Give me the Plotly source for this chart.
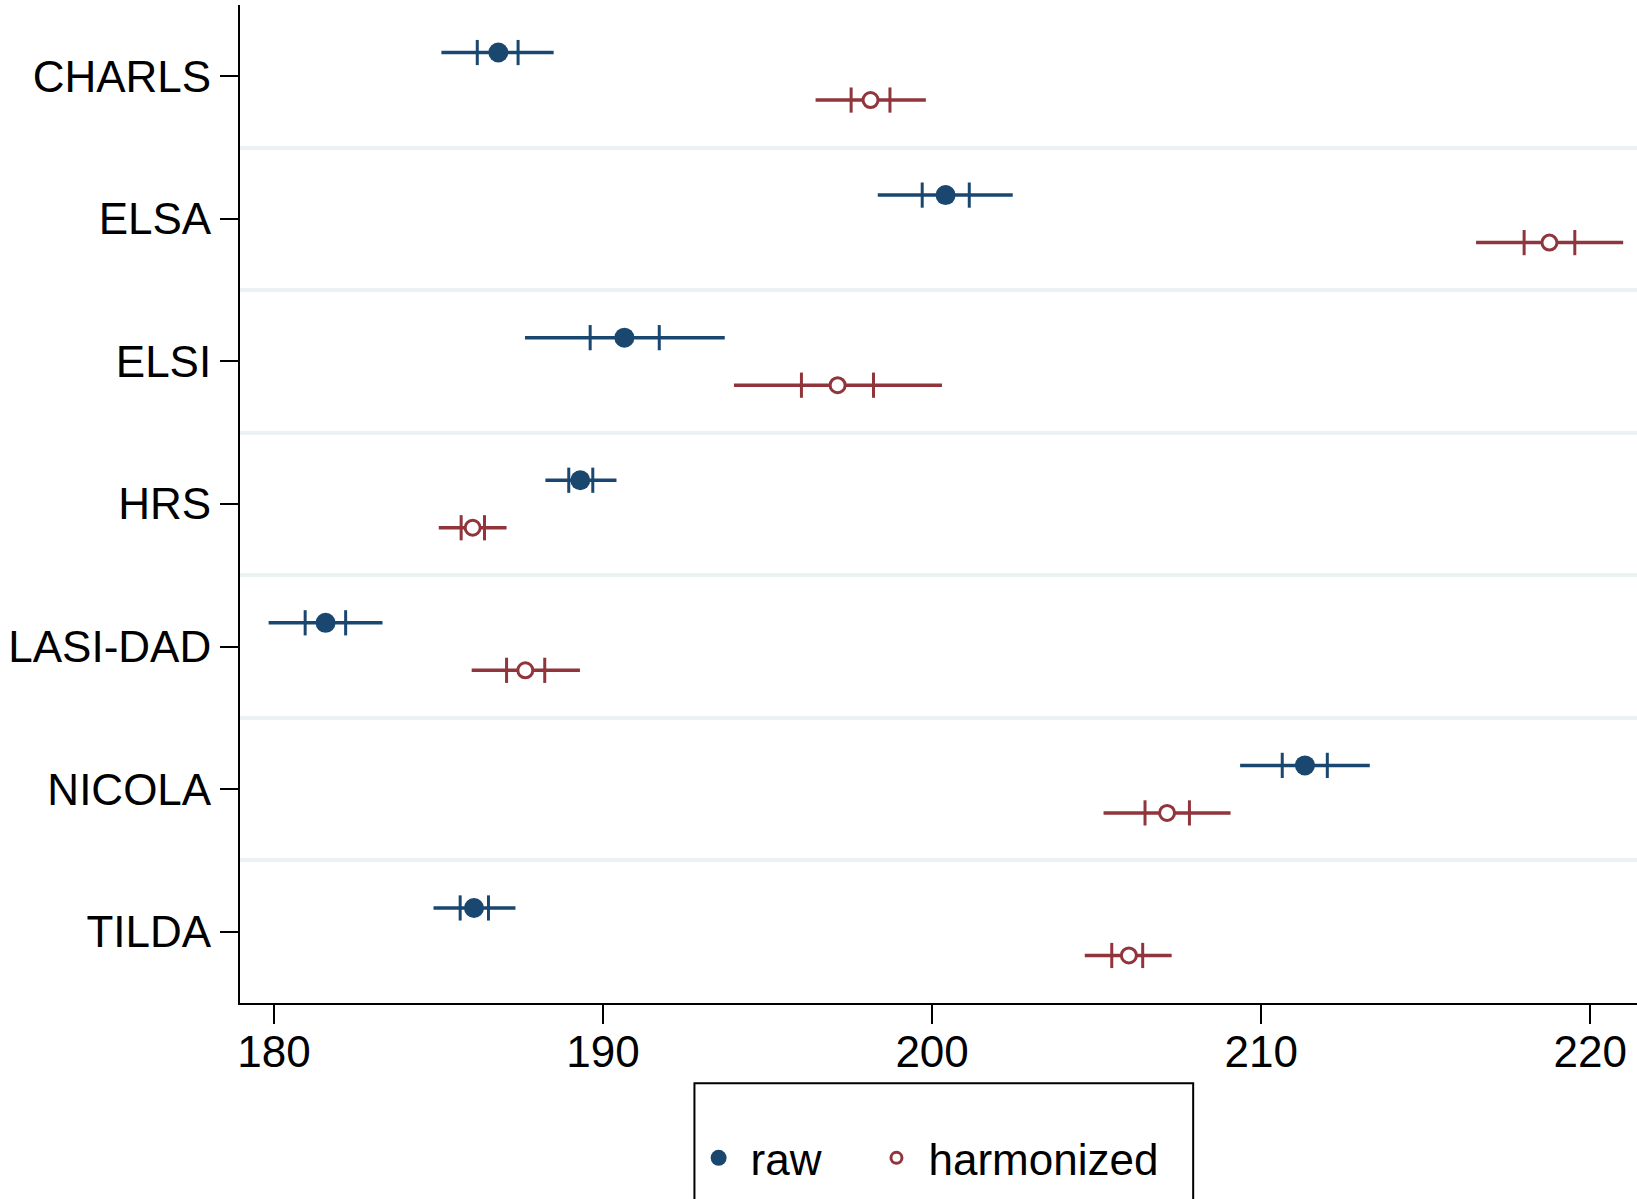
import plotly.graph_objects as go

# ---- data ----
studies = ["CHARLS", "ELSA", "ELSI", "HRS", "LASI-DAD", "NICOLA", "TILDA"]

raw_mean = [186.82, 200.41, 190.65, 189.31, 181.57, 211.33, 186.08]
raw_lo95 = [185.09, 198.35, 187.63, 188.25, 179.84, 209.36, 184.85]
raw_hi95 = [188.50, 202.45, 193.70, 190.41, 183.30, 213.30, 187.34]
raw_lo_in = [186.18, 199.70, 189.61, 188.96, 180.95, 210.64, 185.66]
raw_hi_in = [187.42, 201.13, 191.71, 189.69, 182.18, 212.01, 186.52]

harm_mean = [198.13, 218.76, 197.13, 186.04, 187.64, 207.14, 205.98]
harm_lo95 = [196.46, 216.53, 193.98, 185.01, 186.01, 205.21, 204.64]
harm_hi95 = [199.81, 221.00, 200.30, 187.07, 189.30, 209.07, 207.28]
harm_lo_in = [197.54, 217.99, 196.03, 185.69, 187.07, 206.47, 205.46]
harm_hi_in = [198.72, 219.53, 198.22, 186.40, 188.23, 207.82, 206.40]

x_ticks = [180, 190, 200, 210, 220]

NAVY = "#1a476f"
MAROON = "#90353b"
GRID = "#eaf2f3"
FONT = "Liberation Sans, Arial, Helvetica, sans-serif"

offset = 1 / 6
pos = list(range(len(studies)))
raw_y = [p - offset for p in pos]
harm_y = [p + offset for p in pos]

fig = go.Figure()


def add_series(name, mean, lo, hi, lo_in, hi_in, ys, color, filled, legend):
    # outer interval
    fig.add_trace(go.Scatter(
        x=mean, y=ys, mode="markers",
        marker=dict(size=1, opacity=0),
        error_x=dict(type="data", symmetric=False,
                     array=[h - m for h, m in zip(hi, mean)],
                     arrayminus=[m - l for m, l in zip(mean, lo)],
                     color=color, thickness=3.5, width=0),
        showlegend=False, hoverinfo="skip"))
    # inner interval ticks
    fig.add_trace(go.Scatter(
        x=lo_in + hi_in, y=ys + ys, mode="markers",
        marker=dict(symbol="line-ns", size=18, color=color,
                    line=dict(color=color, width=3)),
        showlegend=False, hoverinfo="skip"))
    # point estimate
    if filled:
        mk = dict(symbol="circle", size=20, color=color,
                  line=dict(width=0))
    else:
        mk = dict(symbol="circle", size=15, color="white",
                  line=dict(color=color, width=3))
    fig.add_trace(go.Scatter(x=mean, y=ys, mode="markers", marker=mk,
                             showlegend=False))
    # legend entry
    lmk = dict(mk)
    lmk["size"] = 16 if filled else 11
    fig.add_trace(go.Scatter(x=[None], y=[None], mode="markers",
                             marker=lmk, name=name, showlegend=True,
                             legend=legend))


add_series("raw", raw_mean, raw_lo95, raw_hi95, raw_lo_in, raw_hi_in,
           raw_y, NAVY, True, "legend")
add_series("harmonized", harm_mean, harm_lo95, harm_hi95, harm_lo_in,
           harm_hi_in, harm_y, MAROON, False, "legend2")

leg_common = dict(orientation="h", xanchor="left", y=-0.12, yanchor="top",
                  bgcolor="rgba(0,0,0,0)", borderwidth=0,
                  font=dict(family=FONT, size=44, color="black"),
                  itemwidth=54)

fig.update_layout(
    width=1637, height=1199, autosize=False,
    margin=dict(l=240, r=0, t=5, b=196, pad=0),
    paper_bgcolor="white", plot_bgcolor="white",
    font=dict(family=FONT, size=44, color="black"),
    showlegend=True,
    legend=dict(x=0.3197, **leg_common),
    legend2=dict(x=0.447, **leg_common),
    shapes=[dict(type="rect", xref="paper", yref="paper",
                 x0=0.3253, x1=0.6823, y0=-0.0805, y1=-0.25,
                 line=dict(color="black", width=2), fillcolor="rgba(0,0,0,0)",
                 layer="above")],
)

fig.update_xaxes(
    range=[178.97, 221.42], tickvals=x_ticks,
    ticktext=[str(t) for t in x_ticks],
    showgrid=False, zeroline=False,
    showline=True, linecolor="black", linewidth=2,
    ticks="outside", ticklen=19, tickwidth=2, tickcolor="black",
    ticklabelstandoff=-10,
)
fig.update_yaxes(
    range=[len(studies) - 0.5, -0.5], tickvals=pos, ticktext=studies,
    showgrid=False, zeroline=False,
    showline=True, linecolor="black", linewidth=2,
    ticks="outside", ticklen=18, tickwidth=2, tickcolor="black",
    minor=dict(tick0=0.5, dtick=1, showgrid=True, gridcolor=GRID,
               gridwidth=4, ticks=""),
)

fig.write_html("out.html")
